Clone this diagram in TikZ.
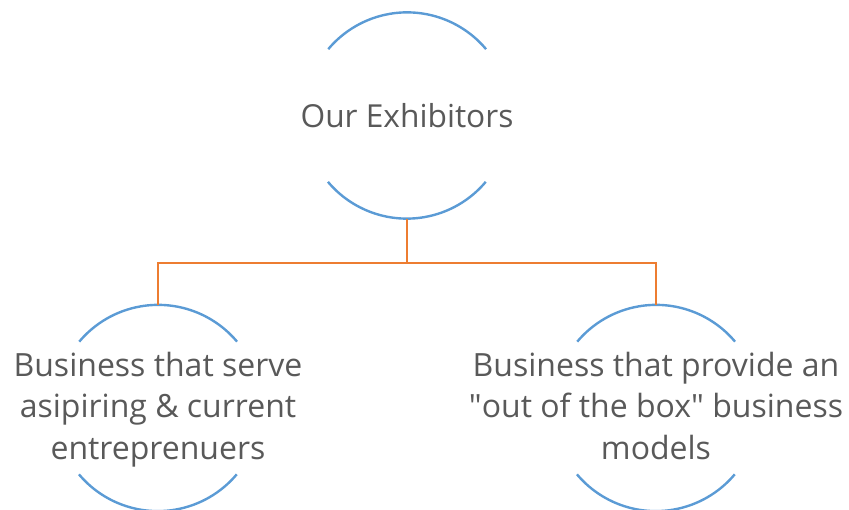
\documentclass[tikz,border=0pt]{standalone}
\usepackage{fontspec}
\setmainfont{Open Sans}
\definecolor{arcblue}{HTML}{5B9BD5}
\definecolor{linkorange}{HTML}{ED7D31}
\definecolor{txtgray}{HTML}{595959}
\begin{document}
\begin{tikzpicture}[x=1pt,y=1pt,
  ring/.style={circle,minimum size=206pt,inner sep=0pt,draw=none},
  arcline/.style={draw=arcblue,line width=2.4pt},
  link/.style={draw=linkorange,line width=2.4pt},
  lbl/.style={text=txtgray,align=center,inner sep=0pt,font=\fontsize{32}{41.5}\selectfont}]
\useasboundingbox (0,0) rectangle (849,509);
\node[ring] (top) at (407,393.5) {};
\node[ring] (left) at (158,101) {};
\node[ring] (right) at (656,101) {};
\node[lbl,font=\fontsize{31.7}{41.5}\selectfont] (toptext) at (top.center) {Our Exhibitors};
\node[lbl,yshift=-1.7pt] (lefttext) at (left.center) {\strut Business that serve\\asipiring \& current\\entreprenuers\strut};
\node[lbl,yshift=-1.7pt] (righttext) at (right.center) {\strut Business that provide an\\\textquotedbl out of the box\textquotedbl{} business\\models\strut};
\foreach \n in {top,left,right}{
  \draw[arcline] (\n.40) arc[start angle=40,end angle=140,radius=103pt];
  \draw[arcline] (\n.220) arc[start angle=220,end angle=320,radius=103pt];
}
\coordinate (bus) at (407,246);
\draw[link] (top.south) -- (bus) -| (left.north);
\draw[link] (bus) -| (right.north);
\end{tikzpicture}
\end{document}
